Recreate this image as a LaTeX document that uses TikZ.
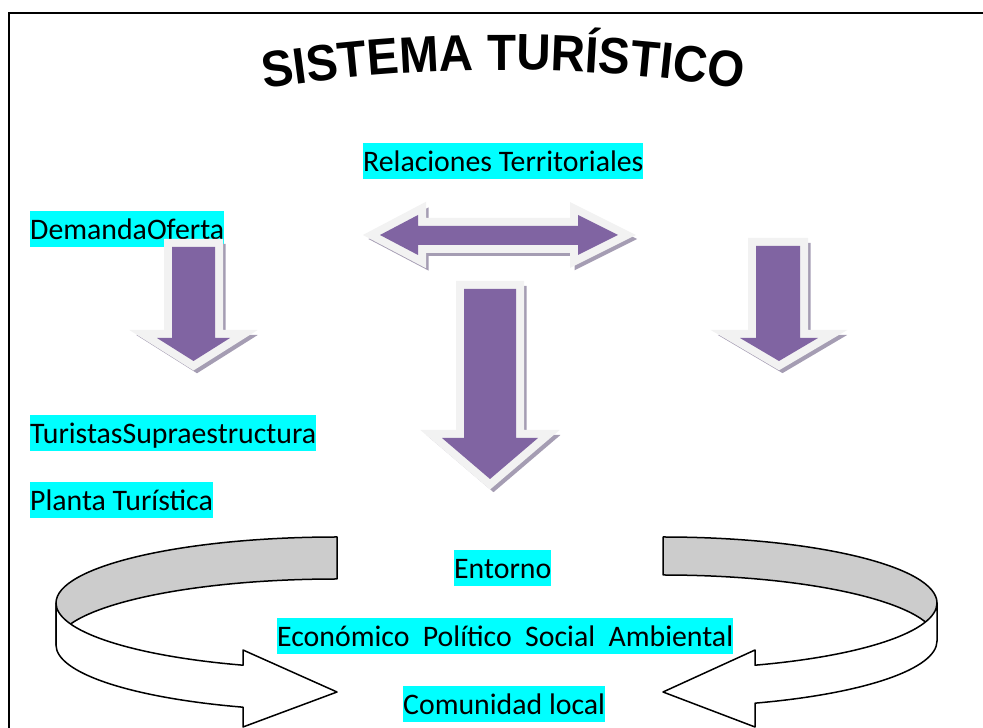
\documentclass[tikz,border=0pt]{standalone}
\usepackage{fontspec}
\setmainfont{Carlito}
\newfontfamily\titlefont[FakeStretch=0.93]{Liberation Sans}
\usetikzlibrary{decorations.text}
\definecolor{purp}{HTML}{8064A2}
\definecolor{outc}{HTML}{F2F2F2}
\definecolor{shadc}{HTML}{A59DB3}
\definecolor{hl}{HTML}{00FFFF}
\definecolor{ribg}{HTML}{CCCCCC}
\newcommand\pfarrow[1]{%
  \filldraw[shadc, line width=14pt, line join=miter, xshift=3.5pt, yshift=-4pt] #1;
  \filldraw[outc, line width=16pt, line join=miter] #1;
  \fill[purp] #1;}
\begin{document}
\begin{tikzpicture}[x=1pt,y=1pt,
  tbox/.style={fill=hl, inner sep=0pt, text height=27.9pt, text depth=7.9pt,
    anchor=north west, font=\fontsize{29.8}{35}\selectfont},
  rib/.style={draw=black, line width=1.5pt, line join=round}]
\useasboundingbox (0,0) rectangle (983,728);
\clip (0,0) rectangle (983,728);
% frame
\draw[line width=1.6pt] (9,-20) -- (9,715) -- (1000,715);
% title
\path[decorate, decoration={text along path, text align=center,
  text={|\titlefont\bfseries\fontsize{51}{60}\selectfont|SISTEMA TURÍSTICO}}]
  (212,630) arc[start angle=101, end angle=79, radius=1525];
% text boxes
\node[tbox] (rel) at (363,585) {Relaciones Territoriales};
\node[tbox] (dem) at (30,517) {DemandaOferta};
\node[tbox] (tur) at (30,313) {TuristasSupraestructura};
\node[tbox] (pla) at (30,246) {Planta Turística};
\node[tbox] (ent) at (454,178) {Entorno};
\node[tbox] (eco) at (277,110) {Económico\ \ Político\ \ Social\ \ Ambiental};
\node[tbox] (com) at (403,42) {Comunidad local};
% block arrows
\pfarrow{(172,481) -- (215,481) -- (215,390) -- (230,390) -- (193.5,367) -- (157,390) -- (172,390) -- cycle}
\pfarrow{(464,439) -- (516,439) -- (516,290) -- (538,290) -- (490,249) -- (442,290) -- (464,290) -- cycle}
\pfarrow{(756,482) -- (800,482) -- (800,390) -- (818,390) -- (779,367) -- (740,390) -- (756,390) -- cycle}
\pfarrow{(380,493) -- (418,513) -- (418,502) -- (578,502) -- (578,513) -- (618,493) -- (578,473) -- (578,483) -- (418,483) -- (418,473) -- cycle}
% left ribbon arrow
\filldraw[rib, fill=ribg] (56,125) arc[start angle=180, end angle=90, x radius=281, y radius=66]
  -- (337,149) arc[start angle=90, end angle=180, x radius=281, y radius=66] -- cycle;
\filldraw[rib, fill=white] (56,125) -- (56,83)
  arc[start angle=180, end angle=250.46, x radius=281, y radius=66]
  -- (243,1) -- (337,36) -- (243,78) -- (243,62.8)
  arc[start angle=250.46, end angle=180, x radius=281, y radius=66] -- cycle;
% right ribbon arrow
\filldraw[rib, fill=ribg] (663,191) arc[start angle=90, end angle=0, x radius=274, y radius=66]
  -- (937,87) arc[start angle=0, end angle=90, x radius=274, y radius=66] -- cycle;
\filldraw[rib, fill=white] (937,125) -- (937,87)
  arc[start angle=0, end angle=-70.38, x radius=274, y radius=66]
  -- (755,1) -- (663,36) -- (755,78) -- (755,62.8)
  arc[start angle=-70.38, end angle=0, x radius=274, y radius=66] -- cycle;
\end{tikzpicture}
\end{document}
